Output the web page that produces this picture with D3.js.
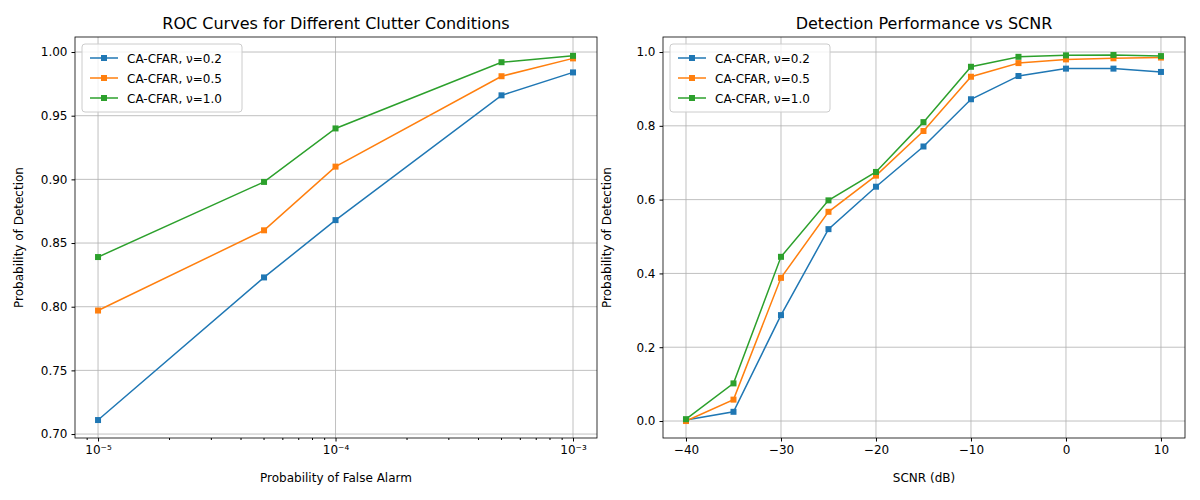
<!DOCTYPE html>
<html><head><meta charset="utf-8">
<script src="https://cdn.jsdelivr.net/npm/d3@7"></script>
<style>body{margin:0;background:#fff}text{font-family:"DejaVu Sans",sans-serif}</style>
</head><body><svg id="c" width="1200" height="500"></svg>
<script>
const seriesNames = ['CA-CFAR, \u03bd=0.2','CA-CFAR, \u03bd=0.5','CA-CFAR, \u03bd=1.0']
const colors = ['#1f77b4','#ff7f0e','#2ca02c']

const pfa = [1e-5, 5e-5, 1e-4, 5e-4, 1e-3]
const rocValues = [
 [0.711, 0.823, 0.868, 0.966, 0.984],
 [0.797, 0.860, 0.910, 0.981, 0.995],
 [0.839, 0.898, 0.940, 0.992, 0.997]]

const scnr = [-40,-35,-30,-25,-20,-15,-10,-5,0,5,10]
const pdValues = [
 [0.003,0.025,0.287,0.520,0.635,0.744,0.872,0.935,0.955,0.955,0.946],
 [0.000,0.058,0.388,0.567,0.665,0.786,0.933,0.970,0.980,0.983,0.985],
 [0.005,0.102,0.445,0.598,0.675,0.810,0.960,0.987,0.991,0.992,0.989]]

const rocTicks = [0.70,0.75,0.80,0.85,0.90,0.95,1.00]
const pdTicks = [0,0.2,0.4,0.6,0.8,1.0]
const scnrTicks = [-40,-30,-20,-10,0,10]

const svg = d3.select('#c')

function panel(o){
  const g = svg.append('g')
  const x = o.x, y = o.y
  const [x0,x1] = x.range(), [y1,y0] = y.range()
  // grid
  o.xt.forEach(t=>g.append('line').attr('x1',x(t)).attr('x2',x(t)).attr('y1',y0).attr('y2',y1).attr('stroke','#b0b0b0').attr('stroke-width',0.8))
  o.yt.forEach(t=>g.append('line').attr('x1',x0).attr('x2',x1).attr('y1',y(t)).attr('y2',y(t)).attr('stroke','#b0b0b0').attr('stroke-width',0.8))
  const xa = g.append('g').attr('transform',`translate(0,${y1})`).call(d3.axisBottom(x).tickValues(o.xt).tickSize(3.5).tickPadding(4).tickFormat(o.xf))
  if(o.minor) xa.call(a=>a.selectAll('.minor').data(o.minor).enter().append('line').attr('x1',d=>x(d)).attr('x2',d=>x(d)).attr('y1',0).attr('y2',2).attr('stroke','#000'))
  const ya = g.append('g').attr('transform',`translate(${x0},0)`).call(d3.axisLeft(y).tickValues(o.yt).tickSize(3.5).tickPadding(4).tickFormat(o.yf))
  ;[xa,ya].forEach(a=>{a.select('.domain').remove();a.selectAll('text').attr('font-size',12).attr('fill','#000')})
  g.append('rect').attr('x',x0).attr('y',y0).attr('width',x1-x0).attr('height',y1-y0).attr('fill','none').attr('stroke','#000').attr('stroke-width',0.8)
  const line = d3.line().x((d,i)=>x(o.xs[i])).y(d=>y(d))
  o.vals.forEach((v,k)=>{
    g.append('path').datum(v).attr('d',line).attr('fill','none').attr('stroke',colors[k]).attr('stroke-width',1.5)
    g.selectAll(null).data(v).enter().append('rect').attr('x',(d,i)=>x(o.xs[i])-3).attr('y',d=>y(d)-3).attr('width',6).attr('height',6).attr('fill',colors[k])
  })
  g.append('text').attr('x',(x0+x1)/2).attr('y',y0-8).attr('text-anchor','middle').attr('font-size',16).text(o.title)
  g.append('text').attr('x',(x0+x1)/2).attr('y',y1+44).attr('text-anchor','middle').attr('font-size',12).text(o.xl)
  g.append('text').attr('transform',`translate(${x0-52},${(y0+y1)/2}) rotate(-90)`).attr('text-anchor','middle').attr('font-size',12).text('Probability of Detection')
  // legend
  const lg = g.append('g').attr('transform',`translate(${x0+7},${y0+7})`)
  lg.append('rect').attr('width',160).attr('height',68).attr('rx',3).attr('fill','#fff').attr('fill-opacity',0.8).attr('stroke','#ccc')
  seriesNames.forEach((n,k)=>{
    const yy = 14+k*20
    lg.append('line').attr('x1',8).attr('x2',36).attr('y1',yy).attr('y2',yy).attr('stroke',colors[k]).attr('stroke-width',1.5)
    lg.append('rect').attr('x',19).attr('y',yy-3).attr('width',6).attr('height',6).attr('fill',colors[k])
    lg.append('text').attr('x',45).attr('y',yy+4.5).attr('font-size',12).text(n)
  })
}

const sup = {'-':'\u207b','0':'\u2070','1':'\u00b9','2':'\u00b2','3':'\u00b3','4':'\u2074','5':'\u2075'}
const minorL = []
for(let e=-6;e<=-3;e++) for(let m=2;m<=9;m++){const v=m*Math.pow(10,e); if(v>8e-6&&v<1.25e-3) minorL.push(v)}

panel({
  x: d3.scaleLog().domain([Math.pow(10,-5.097),Math.pow(10,-2.899)]).range([75,597]),
  y: d3.scaleLinear().domain([0.6969,1.0118]).range([438,37]),
  xt:[1e-5,1e-4,1e-3], yt:rocTicks, minor:minorL,
  xf:d=>'10'+String(Math.round(Math.log10(d))).split('').map(c=>sup[c]).join(''),
  yf:d3.format('.2f'), xs:pfa, vals:rocValues,
  title:'ROC Curves for Different Clutter Conditions', xl:'Probability of False Alarm'
})
panel({
  x: d3.scaleLinear().domain([-42.42,12.53]).range([663,1185]),
  y: d3.scaleLinear().domain([-0.046,1.0407]).range([438,37]),
  xt:scnrTicks, yt:pdTicks,
  xf:d=>String(d).replace('-','\u2212'), yf:d3.format('.1f'), xs:scnr, vals:pdValues,
  title:'Detection Performance vs SCNR', xl:'SCNR (dB)'
})
</script></body></html>
